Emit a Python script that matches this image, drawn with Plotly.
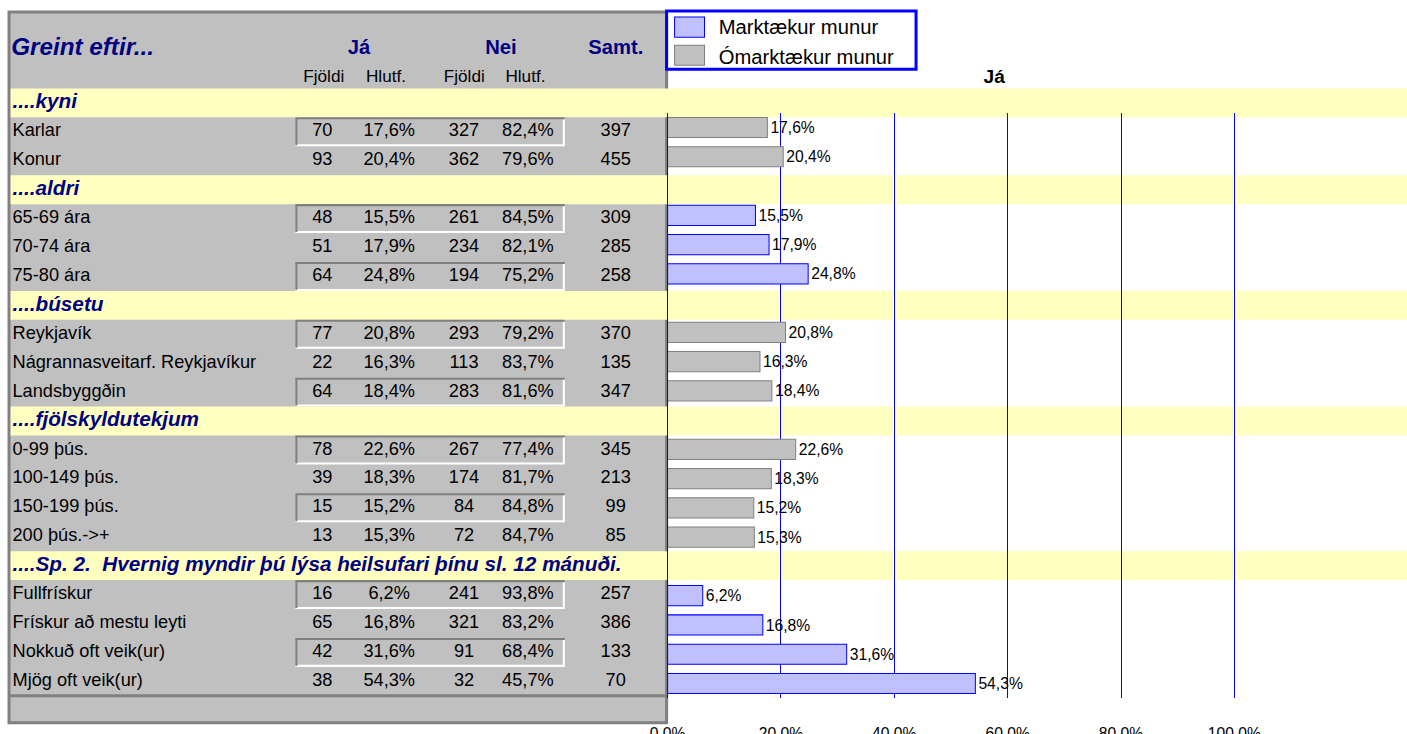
import plotly.graph_objects as go

# ---------------- data ----------------
sections = ["....kyni", "....aldri", "....búsetu", "....fjölskyldutekjum",
            "....Sp. 2.  Hvernig myndir þú lýsa heilsufari þínu sl. 12 mánuði."]
group_labels = [
    ["Karlar", "Konur"],
    ["65-69 ára", "70-74 ára", "75-80 ára"],
    ["Reykjavík", "Nágrannasveitarf. Reykjavíkur", "Landsbyggðin"],
    ["0-99 þús.", "100-149 þús.", "150-199 þús.", "200 þús.->+"],
    ["Fullfrískur", "Frískur að mestu leyti", "Nokkuð oft veik(ur)", "Mjög oft veik(ur)"],
]
ja_n = [[70, 93], [48, 51, 64], [77, 22, 64], [78, 39, 15, 13], [16, 65, 42, 38]]
ja_pct = [[17.6, 20.4], [15.5, 17.9, 24.8], [20.8, 16.3, 18.4],
          [22.6, 18.3, 15.2, 15.3], [6.2, 16.8, 31.6, 54.3]]
nei_n = [[327, 362], [261, 234, 194], [293, 113, 283], [267, 174, 84, 72], [241, 321, 91, 32]]
nei_pct = [[82.4, 79.6], [84.5, 82.1, 75.2], [79.2, 83.7, 81.6],
           [77.4, 81.7, 84.8, 84.7], [93.8, 83.2, 68.4, 45.7]]
samt = [[397, 455], [309, 285, 258], [370, 135, 347], [345, 213, 99, 85], [257, 386, 133, 70]]
significant = [False, True, False, False, True]

legend_names = ["Marktækur munur", "Ómarktækur munur"]
tick_vals = [0, 0.2, 0.4, 0.6, 0.8, 1.0]

# ---------------- styling ----------------
W, H = 1407, 734
FONT = "Liberation Sans, Arial, sans-serif"
NAVY = "#000080"
GRAY = "#C0C0C0"
DGRAY = "#808080"
YELLOW = "#FFFFC0"
BLUE = "#0000FF"
LBLUE = "#C0C0FF"

ROW0, PITCH = 102.5, 28.81          # table rows (pixels)
BAR0, BPITCH = 97.85, 29.15         # chart rows (pixels)


def trow(py):
    return (py - ROW0) / PITCH


def pfy(py):
    return 1 - py / H


def pfx(px):
    return px / W


def fmt_pct(v):
    return f"{v:.1f}%".replace(".", ",")


# flatten rows
sec_rows = []
lab_r, lab_t = [], []
cells = {"jn": [], "jp": [], "nn": [], "np": [], "s": []}
cell_r = []
box_rows = []
bar_sig = {"r": [], "x": []}
bar_non = {"r": [], "x": []}
r = 0
for g, sec in enumerate(sections):
    sec_rows.append((r, sec))
    r += 1
    for i, lab in enumerate(group_labels[g]):
        lab_r.append(r)
        lab_t.append(lab)
        cell_r.append(r)
        cells["jn"].append(str(ja_n[g][i]))
        cells["jp"].append(fmt_pct(ja_pct[g][i]))
        cells["nn"].append(str(nei_n[g][i]))
        cells["np"].append(fmt_pct(nei_pct[g][i]))
        cells["s"].append(str(samt[g][i]))
        if i % 2 == 0:
            box_rows.append(r)
        tgt = bar_sig if significant[g] else bar_non
        tgt["r"].append(r)
        tgt["x"].append(ja_pct[g][i] / 100)
        r += 1
last_row = r - 1

fig = go.Figure()

# ---------------- table text ----------------
fig.add_trace(go.Scatter(
    x=[9.5] * len(lab_r), y=lab_r, mode="text", text=lab_t,
    textposition="middle right", textfont=dict(family=FONT, size=18, color="black"),
    hoverinfo="skip", showlegend=False, xaxis="x", yaxis="y"))
fig.add_trace(go.Scatter(
    x=[9.5] * len(sec_rows), y=[s[0] for s in sec_rows], mode="text",
    text=[f"<b><i>{s[1]}</i></b>" for s in sec_rows],
    textposition="middle right", textfont=dict(family=FONT, size=20.5, color=NAVY),
    hoverinfo="skip", showlegend=False, xaxis="x", yaxis="y"))
col_x = {"jn": 320, "jp": 387, "nn": 462, "np": 526, "s": 614}
for key, cx in col_x.items():
    fig.add_trace(go.Scatter(
        x=[cx] * len(cell_r), y=cell_r, mode="text", text=cells[key],
        textposition="middle center", textfont=dict(family=FONT, size=18, color="black"),
        hoverinfo="skip", showlegend=False, xaxis="x", yaxis="y"))

# ---------------- bars ----------------
for data, fill, edge, name in [(bar_sig, LBLUE, BLUE, legend_names[0]),
                               (bar_non, GRAY, DGRAY, legend_names[1])]:
    fig.add_trace(go.Bar(
        x=data["x"], y=data["r"], orientation="h", width=0.69,
        marker=dict(color=fill, line=dict(color=edge, width=1)),
        texttemplate="%{x:.1%}", textposition="outside", cliponaxis=False,
        textfont=dict(family=FONT, size=15.5, color="black"), constraintext="none",
        name=name, showlegend=False, xaxis="x2", yaxis="y2", hoverinfo="skip"))

# ---------------- shapes ----------------
shapes = []
shapes.append(dict(type="rect", xref="x", yref="y", x0=6, x1=665,
                   y0=trow(12), y1=trow(720), fillcolor=GRAY,
                   line=dict(color=DGRAY, width=3), layer="below"))
for sr, _ in sec_rows:
    shapes.append(dict(type="rect", xref="x", yref="y", x0=7.6, x1=W,
                       y0=sr - 0.5, y1=sr + 0.5, fillcolor=YELLOW,
                       line=dict(width=0), layer="below"))
shapes.append(dict(type="line", xref="x", yref="y", x0=6, x1=665,
                   y0=last_row + 0.5, y1=last_row + 0.5,
                   line=dict(color=DGRAY, width=3), layer="below"))
d = 1 / PITCH
for br in box_rows:
    t, b = br - 0.5 + d, br + 0.5 - d
    shapes.append(dict(type="line", xref="x", yref="y", x0=293, x1=563, y0=b, y1=b,
                       line=dict(color="white", width=2), layer="below"))
    shapes.append(dict(type="line", xref="x", yref="y", x0=562, x1=562, y0=t, y1=b,
                       line=dict(color="white", width=2), layer="below"))
    shapes.append(dict(type="line", xref="x", yref="y", x0=293, x1=563, y0=t, y1=t,
                       line=dict(color=DGRAY, width=2), layer="below"))
    shapes.append(dict(type="line", xref="x", yref="y", x0=294, x1=294, y0=t, y1=b,
                       line=dict(color=DGRAY, width=2), layer="below"))
# legend box
shapes.append(dict(type="rect", xref="paper", yref="paper", x0=pfx(665), x1=pfx(915),
                   y0=pfy(69), y1=pfy(11), fillcolor="white",
                   line=dict(color=BLUE, width=3), layer="above"))
shapes.append(dict(type="rect", xref="paper", yref="paper", x0=pfx(673), x1=pfx(703),
                   y0=pfy(37), y1=pfy(17), fillcolor=LBLUE,
                   line=dict(color=BLUE, width=1), layer="above"))
shapes.append(dict(type="rect", xref="paper", yref="paper", x0=pfx(673), x1=pfx(703),
                   y0=pfy(65), y1=pfy(45), fillcolor=GRAY,
                   line=dict(color=DGRAY, width=1), layer="above"))

# ---------------- annotations ----------------
ann = []
ann.append(dict(x=6, y=trow(46), xref="x", yref="y", text="<b><i>Greint eftir...</i></b>",
                showarrow=False, xanchor="left", yanchor="middle",
                font=dict(family=FONT, size=24, color=NAVY)))
for txt, cx in [("Já", 357), ("Nei", 499), ("Samt.", 614)]:
    ann.append(dict(x=cx, y=trow(46), xref="x", yref="y", text=f"<b>{txt}</b>",
                    showarrow=False, xanchor="center", yanchor="middle",
                    font=dict(family=FONT, size=20, color=NAVY)))
for txt, cx in [("Fjöldi", 322), ("Hlutf.", 384), ("Fjöldi", 462), ("Hlutf.", 524)]:
    ann.append(dict(x=cx, y=trow(76), xref="x", yref="y", text=txt,
                    showarrow=False, xanchor="center", yanchor="middle",
                    font=dict(family=FONT, size=17, color="black")))
ann.append(dict(x=pfx(994), y=pfy(76), xref="paper", yref="paper", text="<b>Já</b>",
                showarrow=False, xanchor="center", yanchor="middle",
                font=dict(family=FONT, size=19, color="black")))
for txt, py in [(legend_names[0], 27), (legend_names[1], 56)]:
    ann.append(dict(x=pfx(715), y=pfy(py), xref="paper", yref="paper", text=txt,
                    showarrow=False, xanchor="left", yanchor="middle",
                    font=dict(family=FONT, size=20, color="black")))

# chart geometry
X0, PX100 = 666, 568
XMAX = 1.1
ytop, ybot = 113, 695

fig.update_layout(
    width=W, height=H, margin=dict(l=0, r=0, t=0, b=0, pad=0),
    paper_bgcolor="white", plot_bgcolor="rgba(0,0,0,0)",
    separators=", ", showlegend=False, barmode="overlay",
    font=dict(family=FONT),
    xaxis=dict(domain=[0, 1], range=[0, W], visible=False, fixedrange=True),
    yaxis=dict(domain=[0, 1], range=[trow(H), trow(0)], visible=False, fixedrange=True),
    xaxis2=dict(domain=[pfx(X0), pfx(X0 + PX100 * XMAX)], range=[0, XMAX], anchor="y2",
                tickvals=tick_vals, tickformat=".1%", showgrid=True, gridcolor=BLUE,
                gridwidth=1, zeroline=False, showline=False, ticks="outside",
                ticklen=21, tickcolor="rgba(0,0,0,0)",
                tickfont=dict(family=FONT, size=15.5, color="black"), fixedrange=True),
    yaxis2=dict(domain=[pfy(ybot), pfy(ytop)],
                range=[(ybot - BAR0) / BPITCH, (ytop - BAR0) / BPITCH], anchor="x2",
                showticklabels=False, showgrid=False, zeroline=False, showline=True,
                linecolor=BLUE, linewidth=1, ticks="", fixedrange=True),
    shapes=shapes, annotations=ann,
)

fig.write_html(
    "out.html",
    config={"displayModeBar": False, "responsive": False},
    post_script=("var gd=document.getElementById('{plot_id}');"
                 "document.body.style.margin='0';"
                 "document.body.style.overflow='hidden';"
                 "gd.style.transformOrigin='0 0';"
                 "gd.style.transform='translate(-15.16px,0px) scale(1.01078)';"),
)
